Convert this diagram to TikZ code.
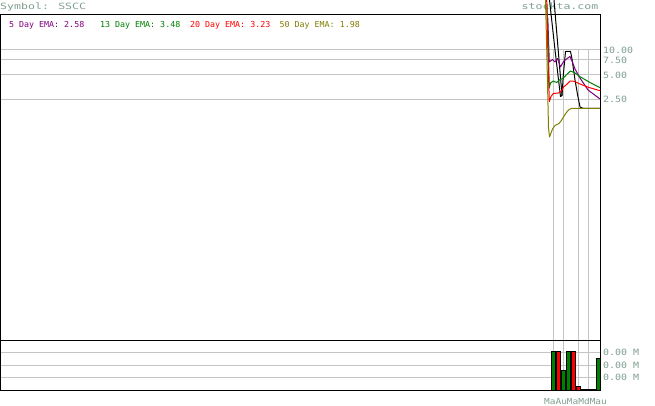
\documentclass[tikz,border=0pt]{standalone}
\usepackage{fontspec}
\newfontfamily\titlefont[FakeStretch=1.34]{DejaVu Sans Mono}
\newfontfamily\legendfont[FakeStretch=1.01]{DejaVu Sans Mono}
\newfontfamily\axisfont[FakeStretch=1.15]{DejaVu Sans Mono}
\definecolor{sitegray}{RGB}{128,160,144}
\definecolor{gridgray}{RGB}{196,196,196}
\definecolor{emapurple}{RGB}{128,0,128}
\definecolor{emagreen}{RGB}{0,128,0}
\definecolor{emared}{RGB}{255,0,0}
\definecolor{emaolive}{RGB}{128,128,0}
\tikzset{
  gridline/.style={draw=gridgray, line width=1pt},
  frameline/.style={draw=black, line width=1pt},
  dataline/.style={line width=1pt, line join=round},
  titletext/.style={anchor=base west, inner sep=0pt, text=sitegray, font=\titlefont\fontsize{8.64}{10}\selectfont},
  legendtext/.style={anchor=base west, inner sep=0pt, font=\legendfont\fontsize{8.23}{10}\selectfont},
  axistext/.style={anchor=west, inner sep=0pt, text=sitegray, font=\axisfont\fontsize{8.64}{10}\selectfont},
  volbar/.style={draw=black, line width=1pt},
}
\begin{document}
\begin{tikzpicture}[x=1pt,y=-1pt]
\useasboundingbox (0,0) rectangle (655,406);
\fill[white] (0,0) rectangle (655,406);
% horizontal grid lines
\foreach \yy in {50,60,75,100,352,365,377} \draw[gridline] (0,\yy) -- (600,\yy);
% vertical grid lines
\foreach \xx in {553,563,578,588} \draw[gridline] (\xx,50) -- (\xx,390);
% frames
\draw[frameline] (0,15) -- (600,15) -- (600,390) -- (0,390) -- cycle;
\draw[frameline] (0,340) -- (600,340);
% titles
\node[titletext] (title) at (0,9.2) {Symbol: SSCC};
\node[titletext] (site) at (521.5,9.2) {stockta.com};
\node[legendtext, text=emapurple] (leg5) at (9,28) {5 Day EMA: 2.58};
\node[legendtext, text=emagreen] (leg13) at (100,28) {13 Day EMA: 3.48};
\node[legendtext, text=emared] (leg20) at (190,28) {20 Day EMA: 3.23};
\node[legendtext, text=emaolive] (leg50) at (279.5,28) {50 Day EMA: 1.98};
% axis labels
\node[axistext] (p10) at (603,50.5) {10.00};
\node[axistext] (p75) at (603,60.5) {7.50};
\node[axistext] (p50) at (603,75) {5.00};
\node[axistext] (p25) at (603,99.5) {2.50};
\node[axistext] (v1) at (603,352.5) {0.00 M};
\node[axistext] (v2) at (603,365) {0.00 M};
\node[axistext] (v3) at (603,377.5) {0.00 M};
\node[anchor=base west, inner sep=0pt, text=sitegray, font=\axisfont\fontsize{8.23}{10}\selectfont] (dates) at (544,404.3) {MaAuMaMdMau};
% price (close) line
\draw[dataline, black] (549.5,0) -- (555,50) -- (560.5,96.5) -- (562,95.5) -- (563.3,75) -- (565.5,51.5) -- (570.5,51.5) -- (572,59) -- (575,80) -- (577.8,96) -- (580,107) -- (583,108.3) -- (600,108.3);
\draw[dataline, black] (554,0) -- (562,95.5);
% 5 day EMA
\draw[dataline, emapurple] (547.8,18) -- (549.3,62) -- (552.5,59.5) -- (555,62) -- (557.5,58.5) -- (560.5,67) -- (563.5,61.5) -- (566.5,59) -- (570,56.5) -- (572,61) -- (575,69) -- (580,78) -- (588,90) -- (600,99);
% 13 day EMA
\draw[dataline, emagreen] (547,5) -- (548.3,50) -- (549.3,88) -- (550.5,83) -- (553.3,81) -- (556.7,82.5) -- (560,79.5) -- (563,78.5) -- (566.7,74.5) -- (570.5,71) -- (575,73) -- (580,76.7) -- (590,82.5) -- (600,87.7);
% 20 day EMA
\draw[dataline, emared] (546.7,0) -- (547.8,50) -- (549.3,101.7) -- (551,96.5) -- (553.3,93.5) -- (558.3,93) -- (561.5,91) -- (563.5,87) -- (566.7,84.5) -- (570,81) -- (574,81.3) -- (580,84) -- (588.3,87.3) -- (600,90.7);
% 50 day EMA
\draw[dataline, emaolive] (545.5,0) -- (547,60) -- (548.5,128) -- (549.5,137) -- (552.5,129) -- (555,125.5) -- (559,123.5) -- (561,121) -- (563.5,117) -- (566,113) -- (569,109.5) -- (572,108.3) -- (600,108.3);
% volume bars
\filldraw[volbar, fill=emagreen] (551,351) rectangle (555,390);
\filldraw[volbar, fill=emared] (556,351) rectangle (560,390);
\filldraw[volbar, fill=emagreen] (561,370) rectangle (565,390);
\filldraw[volbar, fill=emagreen] (566,351) rectangle (570,390);
\filldraw[volbar, fill=emared] (571,351) rectangle (575,390);
\filldraw[volbar, fill=emared] (576,386) rectangle (580,390);
\draw[frameline] (580,389.5) -- (597,389.5);
\filldraw[volbar, fill=emagreen] (596,358) rectangle (600,390);
\end{tikzpicture}
\end{document}
